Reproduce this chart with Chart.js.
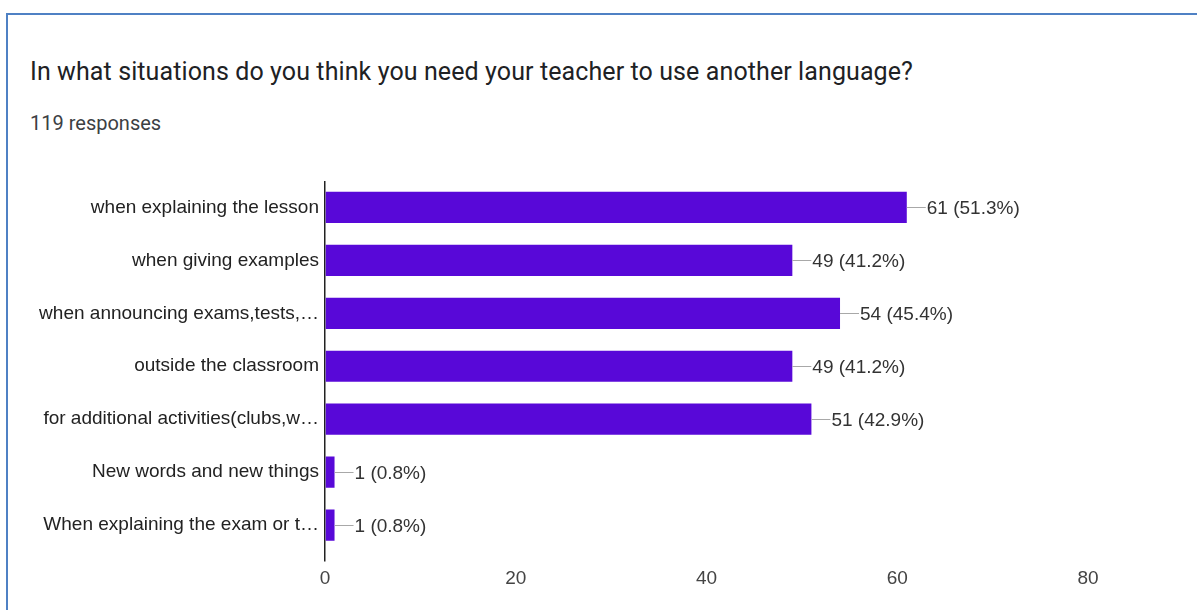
<!DOCTYPE html>
<html>
<head>
<meta charset="utf-8">
<title>Teacher language survey</title>
<script src="https://cdn.jsdelivr.net/npm/chart.js@4.4.1/dist/chart.umd.min.js"></script>
<style>
  body { margin: 0; background: #fff; width: 1197px; height: 610px; overflow: hidden; position: relative; }
  #frame { position: absolute; left: 6px; top: 13px; width: 1300px; height: 700px;
           border-top: 2px solid #4f81c4; border-left: 2px solid #4f81c4; }
  #title { position: absolute; left: 30px; top: 57px; font: 25px/30px Roboto, sans-serif; letter-spacing: 0.1px; color: #202124; white-space: nowrap; }
  #sub { position: absolute; left: 30px; top: 112px; font: 20px/22px Roboto, sans-serif; color: #3c4043; }
  #wrap { position: absolute; left: 0; top: 0; width: 1197px; height: 610px; }
</style>
</head>
<body>
<div id="frame"></div>
<div id="title">In what situations do you think you need your teacher to use another language?</div>
<div id="sub">119 responses</div>
<div id="wrap"><canvas id="chart"></canvas></div>
<script>
// --- DATA ---
const situations = [
    'when explaining the lesson',
    'when giving examples',
    'when announcing exams,tests,\u2026',
    'outside the classroom',
    'for additional activities(clubs,w\u2026',
    'New words and new things',
    'When explaining the exam or t\u2026'
];
const counts = [61, 49, 54, 49, 51, 1, 1];
const totalResponses = 119;
const axisTicks = [0, 20, 40, 60, 80];

// --- STYLE ---
const barColor = '#5808d8';
const labelFont = { family: '"Liberation Sans", Arial, sans-serif', size: 19 };

// count + percentage label with a short leader line after each bar
const valueLabels = {
    id: 'valueLabels',
    afterDatasetsDraw(chart) {
        const ctx = chart.ctx;
        const meta = chart.getDatasetMeta(0);
        meta.data.forEach((bar, i) => {
            const v = counts[i];
            const pct = (v / totalResponses * 100).toFixed(1);
            const y = Math.round(bar.y) + 0.5;
            ctx.save();
            ctx.strokeStyle = '#a8a8a8';
            ctx.lineWidth = 1;
            ctx.beginPath();
            ctx.moveTo(bar.x, y);
            ctx.lineTo(bar.x + 19, y);
            ctx.stroke();
            ctx.fillStyle = '#333';
            ctx.font = labelFont.size + 'px ' + labelFont.family;
            ctx.textBaseline = 'middle';
            ctx.fillText(v + ' (' + pct + '%)', bar.x + 20, bar.y + 1.5);
            ctx.restore();
        });
    }
};

const ctx = document.getElementById('chart').getContext('2d');
const chart = new Chart(ctx, {
    type: 'bar',
    data: {
        labels: situations,
        datasets: [{
            data: counts,
            backgroundColor: barColor,
            borderWidth: 0,
            categoryPercentage: 1,
            barPercentage: 0.59
        }]
    },
    options: {
        indexAxis: 'y',
        responsive: true,
        maintainAspectRatio: false,
        animation: false,
        layout: { padding: { left: 30, right: 109, top: 181, bottom: 0 } },
        plugins: {
            legend: { display: false },
            tooltip: { enabled: false }
        },
        scales: {
            x: {
                min: axisTicks[0],
                max: axisTicks[axisTicks.length - 1],
                afterBuildTicks: s => { s.ticks = axisTicks.map(v => ({ value: v })); },
                ticks: { color: '#444', font: labelFont, padding: 6 },
                grid: {
                    // only the zero line is drawn, reaching a little below the plot
                    color: c => (c.tick && c.tick.value === 0) ? '#222' : 'transparent',
                    lineWidth: 1.5,
                    drawTicks: true,
                    tickLength: 10
                },
                border: { display: false },
                afterFit: s => { s.height = 58.5; }
            },
            y: {
                ticks: { color: '#222', font: labelFont, padding: 6 },
                grid: { display: false, drawTicks: false },
                border: { display: false },
                afterFit: s => { s.width = 295; }
            }
        }
    },
    plugins: [valueLabels]
});
</script>
</body>
</html>
